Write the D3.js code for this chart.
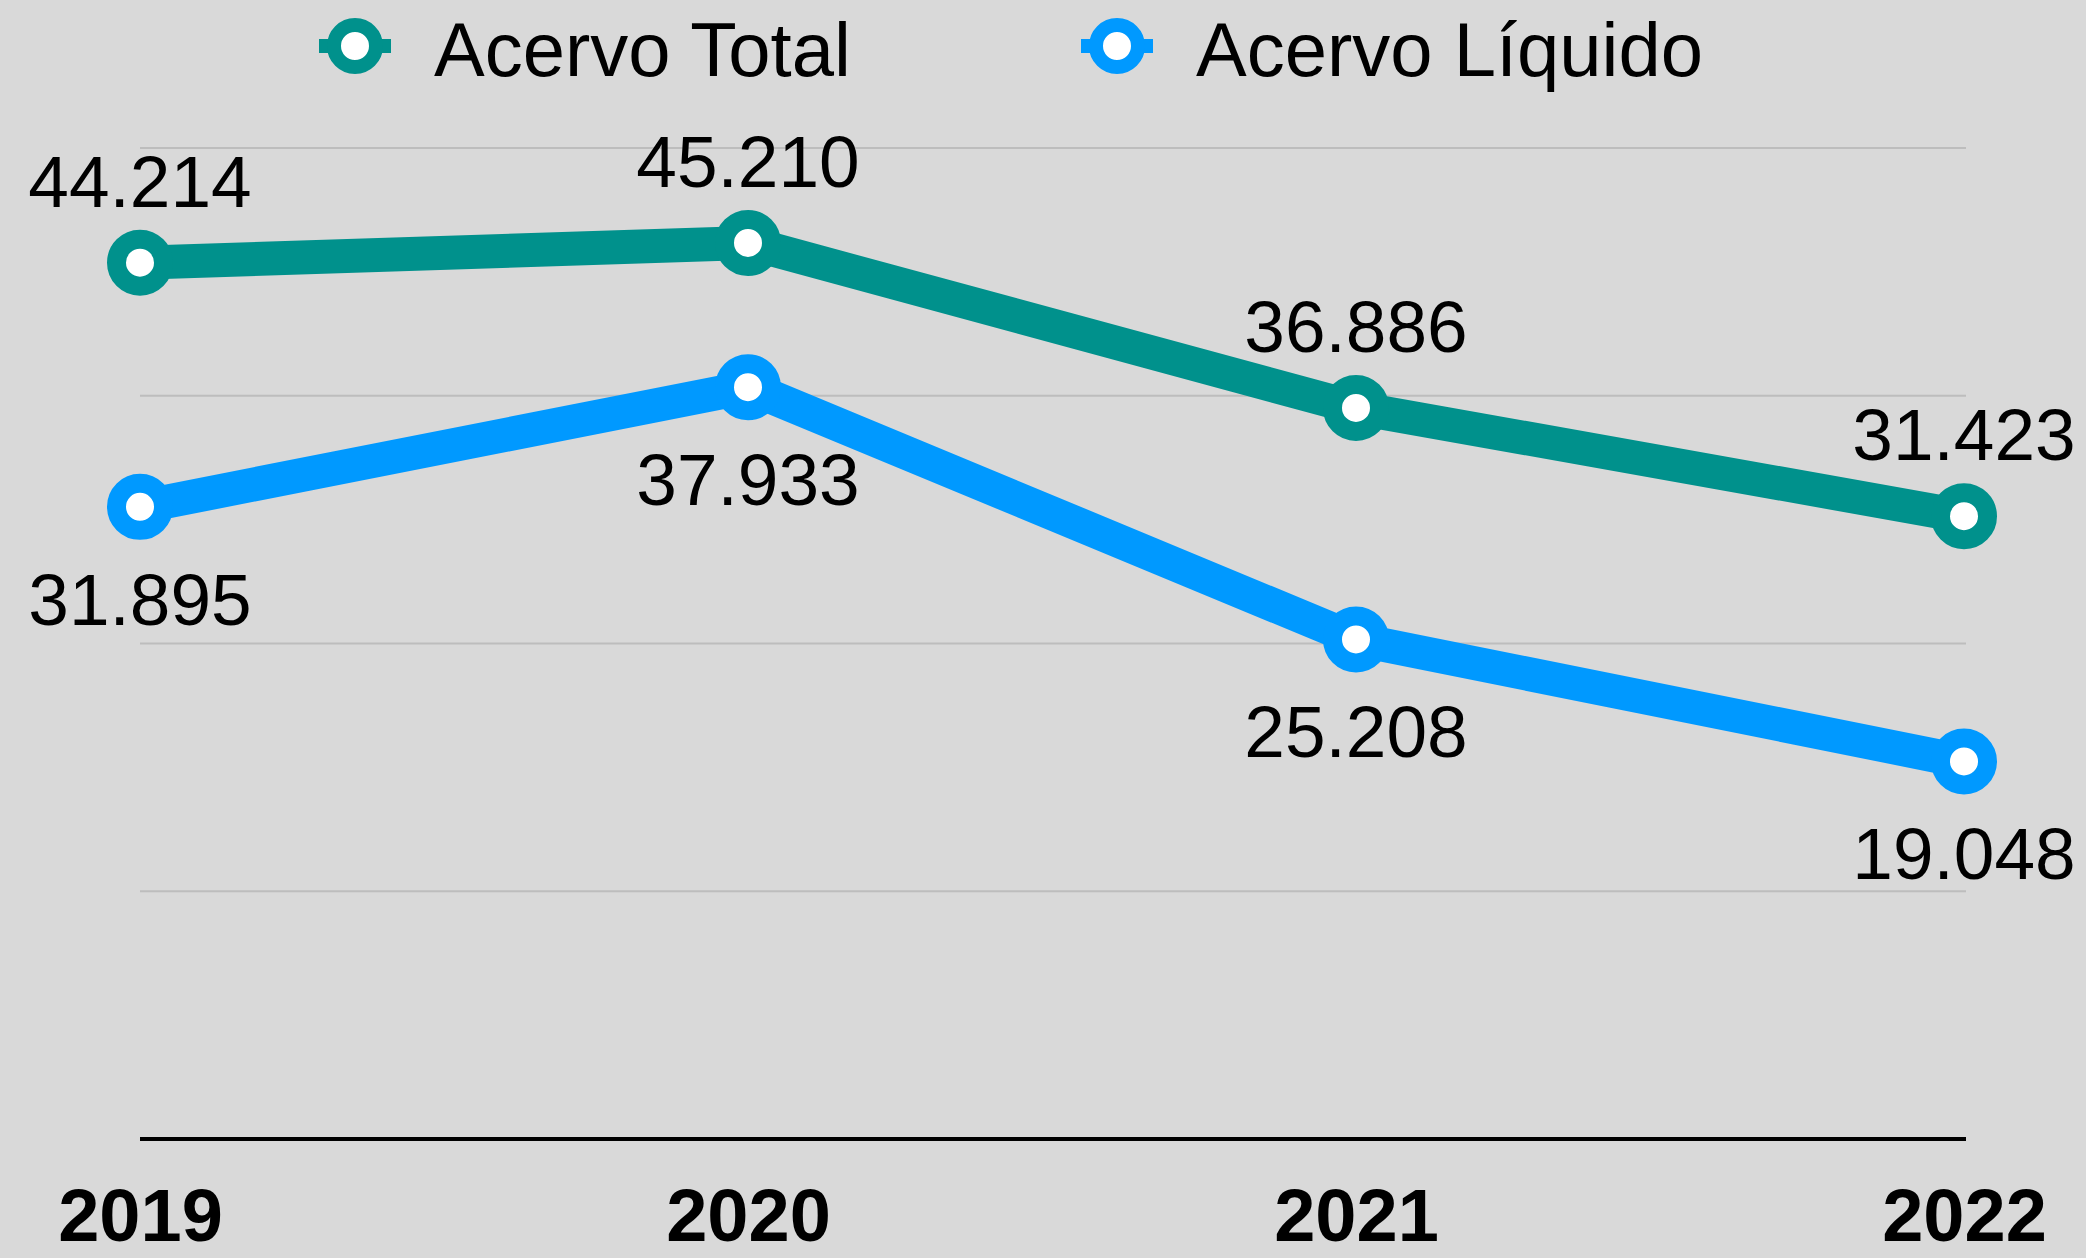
<!DOCTYPE html>
<html>
<head>
<meta charset="utf-8">
<script src="https://cdn.jsdelivr.net/npm/d3@7"></script>
<style>
  body { margin: 0; background: #d9d9d9; }
  text { font-family: "Liberation Sans", Arial, Helvetica, sans-serif; fill: #000; }
</style>
</head>
<body>
<div id="chart"></div>
<script>
// Chart data
var years = ["2019", "2020", "2021", "2022"];
var acervoTotal = [44.214, 45.210, 36.886, 31.423];
var acervoLiquido = [31.895, 37.933, 25.208, 19.048];
var gridTicks = [12.5, 25, 37.5, 50];
var seriesNames = ["Acervo Total", "Acervo Líquido"];
var seriesColors = ["#00918c", "#0099ff"];

var svgWidth = 2086;
var svgHeight = 1258;

var svg = d3.select("#chart").append("svg")
  .attr("width", svgWidth)
  .attr("height", svgHeight);

svg.append("rect")
  .attr("width", svgWidth)
  .attr("height", svgHeight)
  .attr("fill", "#d9d9d9");

var xScale = d3.scalePoint()
  .domain(years)
  .range([140, 1964]);

var yScale = d3.scaleLinear()
  .domain([0, 50])
  .range([1139, 148]);

// gridlines
svg.append("g").selectAll("line")
  .data(gridTicks)
  .enter()
  .append("line")
  .attr("x1", 140)
  .attr("x2", 1966)
  .attr("y1", d => yScale(d))
  .attr("y2", d => yScale(d))
  .attr("stroke", "#bdbdbd")
  .attr("stroke-width", 2);

// x axis
var xAxis = svg.append("g")
  .attr("transform", `translate(0, ${yScale(0)})`)
  .call(d3.axisBottom(xScale).tickSize(0).tickPadding(0));

xAxis.select(".domain").remove();
xAxis.append("line")
  .attr("x1", 140)
  .attr("x2", 1966)
  .attr("stroke", "#000")
  .attr("stroke-width", 4);

xAxis.selectAll(".tick text")
  .attr("y", 102)
  .attr("dy", 0)
  .attr("font-size", "74px")
  .attr("font-weight", "bold")
  .attr("font-family", "'Liberation Sans', Arial, sans-serif")
  .attr("fill", "#000");

var series = [
  { name: seriesNames[0], values: acervoTotal, color: seriesColors[0], dy: -56 },
  { name: seriesNames[1], values: acervoLiquido, color: seriesColors[1], dy: 118 }
];

var line = d3.line()
  .x((d, i) => xScale(years[i]))
  .y(d => yScale(d));

series.forEach(function(s) {
  svg.append("path")
    .datum(s.values)
    .attr("d", line)
    .attr("fill", "none")
    .attr("stroke", s.color)
    .attr("stroke-width", 34)
    .attr("stroke-linejoin", "round");

  svg.append("g").selectAll("circle")
    .data(s.values)
    .enter()
    .append("circle")
    .attr("cx", (d, i) => xScale(years[i]))
    .attr("cy", d => yScale(d))
    .attr("r", 23.5)
    .attr("fill", "#fff")
    .attr("stroke", s.color)
    .attr("stroke-width", 19);

  svg.append("g").selectAll("text")
    .data(s.values)
    .enter()
    .append("text")
    .attr("x", (d, i) => xScale(years[i]))
    .attr("y", d => yScale(d) + s.dy)
    .attr("text-anchor", "middle")
    .attr("font-size", "73px")
    .text(d => d.toFixed(3));
});

// legend
var legendX = [355, 1117];
var legend = svg.append("g").selectAll("g")
  .data(series)
  .enter()
  .append("g")
  .attr("transform", (d, i) => `translate(${legendX[i]}, 46)`);

legend.append("line")
  .attr("x1", -36)
  .attr("x2", 36)
  .attr("stroke", d => d.color)
  .attr("stroke-width", 14);

legend.append("circle")
  .attr("r", 21)
  .attr("fill", "#fff")
  .attr("stroke", d => d.color)
  .attr("stroke-width", 14);

legend.append("text")
  .attr("x", 79)
  .attr("y", 30)
  .attr("font-size", "76px")
  .text(d => d.name);
</script>
</body>
</html>
